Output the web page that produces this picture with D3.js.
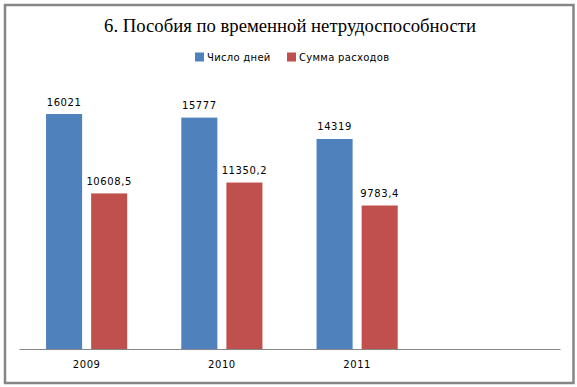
<!DOCTYPE html>
<html>
<head>
<meta charset="utf-8">
<script src="https://cdn.jsdelivr.net/npm/d3@7"></script>
<style>
  body { margin: 0; background: #fff; }
  svg { display: block; }
</style>
</head>
<body>
<div class="chart"></div>
<script>
// Данные
const categories = ['2009', '2010', '2011', ''];
const series_names = ['Число дней', 'Сумма расходов'];
const days_values = [16021, 15777, 14319];
const cost_values = [10608.5, 11350.2, 9783.4];
const series_colors = ['#4F81BD', '#C0504D'];

const width = 577, height = 387;
const label_font = '"DejaVu Sans", sans-serif';

// запятая как десятичный разделитель
const ru = d3.formatLocale({decimal: ',', thousands: '', grouping: [3], currency: ['', '']});
const fmt = ru.format('.1~f');

const rows = categories.slice(0, 3).map((c, i) => ({
    cat: c,
    values: [
        {name: series_names[0], value: days_values[i], color: series_colors[0]},
        {name: series_names[1], value: cost_values[i], color: series_colors[1]}
    ]
}));

const svg = d3.select('.chart').append('svg')
    .attr('width', width)
    .attr('height', height);

// рамка
svg.append('rect')
    .attr('x', 5).attr('y', 5)
    .attr('width', 568.5).attr('height', 378)
    .attr('fill', '#fff')
    .attr('stroke', '#868686')
    .attr('stroke-width', 2.5);

// заголовок
svg.append('text')
    .attr('x', 290).attr('y', 32)
    .attr('text-anchor', 'middle')
    .style('font-family', '"Liberation Serif", "Times New Roman", serif')
    .style('font-size', '18.7px')
    .style('fill', '#000')
    .text('6. Пособия по временной нетрудоспособности');

// легенда
const legend_x = [195, 287];
const legend = svg.append('g').selectAll('g')
    .data(series_names)
    .join('g')
    .attr('transform', (d, i) => `translate(${legend_x[i]}, 52.5)`);
legend.append('rect')
    .attr('width', 9).attr('height', 9)
    .attr('fill', (d, i) => series_colors[i]);
legend.append('text')
    .attr('x', 12).attr('y', 8.5)
    .style('font-family', label_font)
    .style('font-size', '10px')
    .style('letter-spacing', '0.3px')
    .style('fill', '#000')
    .text(d => d);

// шкалы
const x0 = d3.scaleBand().domain(categories).range([19, 560]);
const x1 = d3.scaleBand().domain(series_names)
    .range([0, x0.bandwidth()])
    .paddingInner(0.2)
    .paddingOuter(0.6);
const y = d3.scaleLinear().domain([0, 18000]).range([349, 85]);

// столбцы
const groups = svg.append('g').selectAll('g')
    .data(rows)
    .join('g')
    .attr('transform', d => `translate(${x0(d.cat)}, 0)`);

groups.selectAll('rect')
    .data(d => d.values)
    .join('rect')
    .attr('x', d => x1(d.name))
    .attr('y', d => y(d.value))
    .attr('width', x1.bandwidth())
    .attr('height', d => y(0) - y(d.value))
    .attr('fill', d => d.color);

groups.selectAll('text')
    .data(d => d.values)
    .join('text')
    .attr('x', d => x1(d.name) + x1.bandwidth() / 2)
    .attr('y', d => y(d.value) - 8.5)
    .attr('text-anchor', 'middle')
    .style('font-family', label_font)
    .style('font-size', '10px')
    .style('letter-spacing', '0.6px')
    .style('fill', '#000')
    .text(d => fmt(d.value));

// ось X
const x_axis = d3.axisBottom(x0).tickSize(0).tickPadding(12);
const gx = svg.append('g')
    .attr('transform', `translate(0, ${y(0)})`)
    .call(x_axis);
gx.select('.domain').attr('stroke', '#868686').attr('stroke-width', 1);
gx.selectAll('.tick text')
    .style('font-family', label_font)
    .style('font-size', '10px')
    .style('letter-spacing', '0.6px')
    .style('fill', '#000');
</script>
</body>
</html>
